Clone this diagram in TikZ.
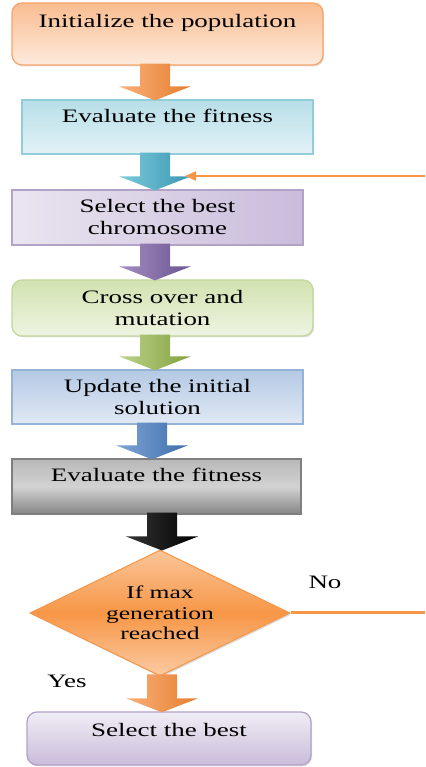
\documentclass[tikz,border=0pt]{standalone}
\usepackage{fontspec}
\setmainfont{Liberation Serif}[FakeStretch=1.42]
\usetikzlibrary{shapes.geometric,shadows,calc,arrows.meta}
\definecolor{oarrow}{HTML}{F79646}
\definecolor{otop}{HTML}{F9BC90}
\definecolor{obot}{HTML}{FDEBDD}
\definecolor{oline}{HTML}{F8A56A}
\definecolor{ttop}{HTML}{B7DEE8}
\definecolor{tbot}{HTML}{E3F2F6}
\definecolor{tline}{HTML}{92CDDC}
\definecolor{ptop}{HTML}{C9BCDB}
\definecolor{pbot}{HTML}{EAE5F0}
\definecolor{pline}{HTML}{B3A2C7}
\definecolor{gtop}{HTML}{D2E2B0}
\definecolor{gbot}{HTML}{EEF4E2}
\definecolor{gline}{HTML}{C3D69B}
\definecolor{btop}{HTML}{B4C9E4}
\definecolor{bbot}{HTML}{E1E9F4}
\definecolor{bline}{HTML}{95B3D7}
\definecolor{ktop}{HTML}{B8B8B8}
\definecolor{kbot}{HTML}{858585}
\definecolor{kline}{HTML}{7F7F7F}
\definecolor{oL}{HTML}{F9B07A}\definecolor{oR}{HTML}{E67E2E}
\definecolor{tL}{HTML}{7CCBDD}\definecolor{tR}{HTML}{3A97B0}
\definecolor{pL}{HTML}{A38FC2}\definecolor{pR}{HTML}{6C5390}
\definecolor{gL}{HTML}{BCD38A}\definecolor{gR}{HTML}{83A13F}
\definecolor{bL}{HTML}{7FA5D8}\definecolor{bR}{HTML}{3F6EAB}
\definecolor{kL}{HTML}{353535}\definecolor{kR}{HTML}{000000}
\newcommand\blockarrow[5]{%
  \path let \p1=(#2.south), \p2=(#3.north) in
    [left color=#4, right color=#5]
    (#1pt-15pt,\y1+2pt) -- (#1pt+15pt,\y1+2pt) -- (#1pt+15pt,\y2+13pt)
    -- (#1pt+36pt,\y2+13pt) -- (#1pt,\y2-1pt) -- (#1pt-36pt,\y2+13pt)
    -- (#1pt-15pt,\y2+13pt) -- cycle;}
\begin{document}
\begin{tikzpicture}[x=1pt,y=1pt,
  txt/.style={font=\fontsize{19}{22}\selectfont, text=black},
  box/.style={txt, draw, line width=1.3pt, inner xsep=4pt, align=center,
    drop shadow={shadow xshift=1.2pt, shadow yshift=-1.5pt, opacity=0.25}},
  onetop/.style 2 args={inner ysep=0pt, text height=#1pt, text depth=#2pt},
  multi/.style={inner ysep=0pt, minimum height=#1pt}]
\useasboundingbox (0,0) rectangle (425,767);

\node[box, rounded corners=10pt, minimum width=311pt, draw=oline,
  top color=otop, bottom color=obot, onetop={25}{37}] (init) at (167.5,733)
  {Initialize the population};
\node[box, minimum width=291pt, draw=tline, top color=ttop, bottom color=tbot,
  onetop={23}{31}] (eval1) at (167.5,640) {Evaluate the fitness};
\node[box, minimum width=291pt, draw=pline, left color=pbot, right color=ptop,
  multi=55] (sel) at (157.5,549.5) {Select the best\\chromosome};
\node[box, rounded corners=10pt, minimum width=301pt, draw=gline,
  top color=gtop, bottom color=gbot, multi=56] (cross) at (162.5,459)
  {Cross over and\\mutation};
\node[box, minimum width=291pt, draw=bline, top color=btop, bottom color=bbot,
  multi=54] (upd) at (157.5,370) {Update the initial\\solution};
\node[box, minimum width=289pt, draw=kline, top color=ktop, bottom color=kbot,
  middle color=gray!35, onetop={23}{32}] (eval2) at (156.5,280.5)
  {Evaluate the fitness};
\node[diamond, txt, align=center, draw=oarrow, line width=1pt,
  minimum width=260pt, minimum height=126pt, inner sep=0pt, shape aspect=2.06,
  top color=oarrow!55!white, bottom color=oarrow!50!white, middle color=oarrow,
  font=\fontsize{18}{20.5}\selectfont,
  drop shadow={shadow xshift=1.2pt, shadow yshift=-1.5pt, opacity=0.3}]
  (dec) at (160,154) {If max\\generation\\reached};
\node[box, rounded corners=10pt, minimum width=284pt, draw=pline,
  top color=pbot!70!white, bottom color=ptop, onetop={25}{28}] (best)
  at (169,28.5) {Select the best};

\blockarrow{155}{init}{eval1}{oL}{oR}
\blockarrow{155}{eval1}{sel}{tL}{tR}
\blockarrow{155}{sel}{cross}{pL}{pR}
\blockarrow{155}{cross}{upd}{gL}{gR}
\blockarrow{152}{upd}{eval2}{bL}{bR}
\blockarrow{162}{eval2}{dec}{kL}{kR}
\blockarrow{162}{dec}{best}{oL}{oR}

\coordinate (fbstart) at (425,591);
\coordinate (fbend) at (185,591);
\draw[oarrow, line width=2.2pt, -{Triangle[length=11pt,width=9pt]}]
  (fbstart) -- (fbend);
\coordinate (noend) at (425,154);
\draw[oarrow, line width=3pt] (dec.east) -- (noend);

\node[txt] (no) at (325,185) {No};
\node[txt] (yes) at (67,86) {Yes};
\end{tikzpicture}
\end{document}
